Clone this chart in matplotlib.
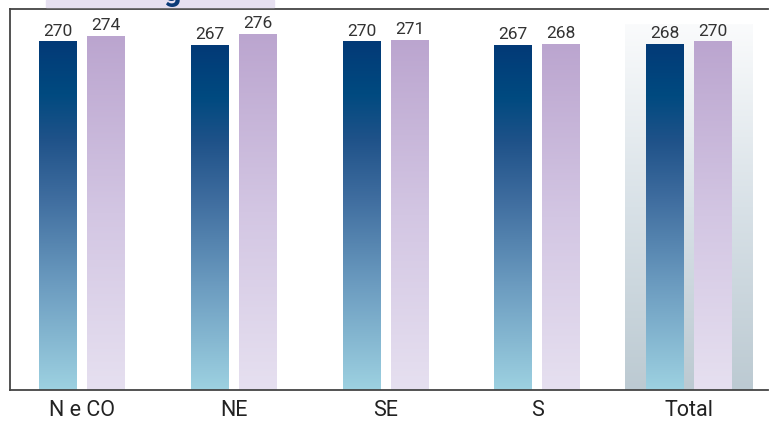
import numpy as np
import matplotlib.pyplot as plt
from matplotlib.colors import LinearSegmentedColormap

# regiões e médias
regioes = ["N e CO", "NE", "SE", "S", "Total"]
serie_a = [270, 267, 270, 267, 268]
serie_b = [274, 276, 271, 268, 270]

plt.rcParams['font.family'] = ['Roboto', 'DejaVu Sans']

azul = LinearSegmentedColormap.from_list("azul", [
    (0.0, "#9dd1e1"), (0.3, "#6c9cc0"), (0.55, "#3f6d9f"),
    (0.72, "#1f5289"), (0.85, "#004a80"), (1.0, "#033a77")])
lilas = LinearSegmentedColormap.from_list("lilas", [
    (0.0, "#e6e0f0"), (0.5, "#d3c6e3"), (1.0, "#bba5cf")])
fundo = LinearSegmentedColormap.from_list("fundo", [
    (0.0, "#bccad2"), (0.5, "#d8e1e7"), (1.0, "#fafbfc")])

fig = plt.figure(figsize=(7.7, 4.21), dpi=100)
ax = fig.add_axes([10/770, 31/421, 758/770, 381/421])

x = np.arange(len(regioes))
w = 0.25
d = 0.158
grad = np.linspace(0, 1, 256).reshape(-1, 1)

# destaque do total
ax.imshow(grad, extent=[4-0.42, 4+0.42, 0, 283], origin='lower',
          aspect='auto', cmap=fundo, zorder=0)

b1 = ax.bar(x - d, serie_a, w, facecolor='none', edgecolor='none', zorder=2)
b2 = ax.bar(x + d, serie_b, w, facecolor='none', edgecolor='none', zorder=2)

for barras, cmap in ((b1, azul), (b2, lilas)):
    for r in barras:
        x0 = r.get_x()
        im = ax.imshow(grad, extent=[x0, x0 + r.get_width(), 0, r.get_height()],
                       origin='lower', aspect='auto', cmap=cmap, zorder=1)
        im.set_clip_path(r)
    ax.bar_label(barras, padding=2, fontsize=12.5, color='#333333')

ax.set_xlim(-0.4745, 4.52)
ax.set_ylim(0, 295)
ax.set_xticks(x)
ax.set_xticklabels(regioes, fontsize=15.5, color='#222222')
ax.tick_params(axis='x', length=0, pad=7)
ax.set_yticks([])
ax.spines['right'].set_visible(False)
for s in ('left', 'top', 'bottom'):
    ax.spines[s].set_color('#444444')
    ax.spines[s].set_linewidth(1.3)

# faixa do título
fig.patches.append(plt.Rectangle((46/770, 414/421), 228/770, 7/421,
                                 transform=fig.transFigure, color='#e6e0f0',
                                 zorder=0))
fig.text(173/770, 0.997, "g", fontsize=22, fontweight='bold', color='#0b3b78',
         ha='center', va='baseline')

fig.savefig("out.png", dpi=100)
